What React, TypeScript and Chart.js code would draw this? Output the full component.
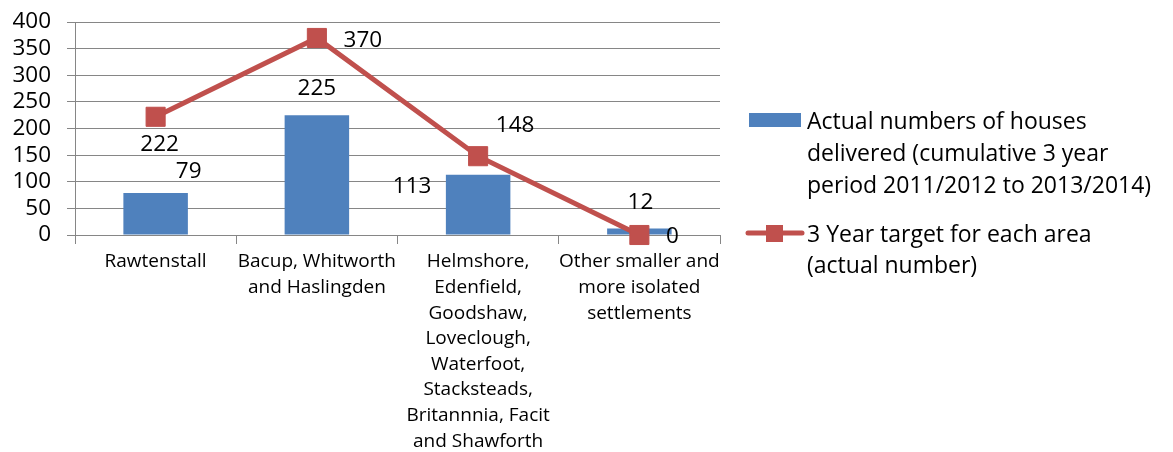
import React, { useEffect, useRef } from "react";
import { Chart, registerables } from "chart.js";

Chart.register(...registerables);

// ---- data ----
const categories: string[][] = [
  ["Rawtenstall"],
  ["Bacup, Whitworth", "and Haslingden"],
  [
    "Helmshore,",
    "Edenfield,",
    "Goodshaw,",
    "Loveclough,",
    "Waterfoot,",
    "Stacksteads,",
    "Britannnia, Facit",
    "and Shawforth",
  ],
  ["Other smaller and", "more isolated", "settlements"],
];
const actualDelivered: number[] = [79, 225, 113, 12];
const targets: number[] = [222, 370, 148, 0];
const yTickValues: number[] = [0, 50, 100, 150, 200, 250, 300, 350, 400];
const barSeriesName: string[] = [
  "Actual numbers of houses",
  "delivered (cumulative 3 year",
  "period 2011/2012 to 2013/2014)",
];
const lineSeriesName: string[] = ["3 Year target for each area", "(actual number)"];

// ---- styling ----
const BLUE = "#4F81BD";
const RED = "#C0504D";
const GRID = "#868686";
const FONT = "'Open Sans', 'Noto Sans', sans-serif";
// data-label offsets relative to the mark (px)
const barLabelOffsets: number[][] = [[33, -21], [0, -27], [-66, 12], [1, -26]];
const lineLabelOffsets: number[][] = [[4, 28], [46, 3], [37, -31], [33, 2]];

const overlayPlugin = {
  id: "overlay",
  afterDatasetsDraw(chart: any) {
    const ctx = chart.ctx as CanvasRenderingContext2D;
    ctx.save();
    ctx.font = `22.5px ${FONT}`;
    ctx.fillStyle = "#000";
    ctx.textAlign = "center";
    ctx.textBaseline = "middle";
    const barMeta = chart.getDatasetMeta(0);
    barMeta.data.forEach((el: any, i: number) => {
      const o = barLabelOffsets[i];
      ctx.fillText(String(actualDelivered[i]), el.x + o[0], el.y + o[1]);
    });
    const lineMeta = chart.getDatasetMeta(1);
    lineMeta.data.forEach((el: any, i: number) => {
      const o = lineLabelOffsets[i];
      ctx.fillText(String(targets[i]), el.x + o[0], el.y + o[1]);
    });
    ctx.restore();
  },
  afterDraw(chart: any) {
    const ctx = chart.ctx as CanvasRenderingContext2D;
    const ca = chart.chartArea;
    const lx = ca.right + 29;
    const tx = ca.right + 87;
    ctx.save();
    ctx.font = `23px ${FONT}`;
    ctx.textAlign = "left";
    ctx.textBaseline = "alphabetic";
    // bar legend
    ctx.fillStyle = BLUE;
    ctx.fillRect(lx, 113, 52, 14);
    ctx.fillStyle = "#000";
    barSeriesName.forEach((t, i) => ctx.fillText(t, tx, 129 + i * 32));
    // line legend
    ctx.strokeStyle = RED;
    ctx.lineWidth = 5;
    ctx.lineCap = "round";
    ctx.beginPath();
    ctx.moveTo(lx - 1, 233);
    ctx.lineTo(lx + 53, 233);
    ctx.stroke();
    ctx.fillStyle = RED;
    ctx.fillRect(lx + 17, 225, 17, 17);
    ctx.fillStyle = "#000";
    lineSeriesName.forEach((t, i) => ctx.fillText(t, tx, 242 + i * 31));
    ctx.restore();
  },
};

export default function App() {
  const canvasRef = useRef<HTMLCanvasElement | null>(null);

  useEffect(() => {
    const canvas = canvasRef.current;
    if (!canvas) return;
    const chart = new Chart(canvas, {
      type: "bar",
      data: {
        labels: categories,
        datasets: [
          {
            type: "bar",
            label: barSeriesName.join(" "),
            data: actualDelivered,
            backgroundColor: BLUE,
            borderWidth: 0,
            categoryPercentage: 1,
            barPercentage: 0.4,
            order: 2,
          } as any,
          {
            type: "line",
            label: lineSeriesName.join(" "),
            data: targets,
            borderColor: RED,
            borderWidth: 5,
            backgroundColor: RED,
            pointStyle: "rect",
            pointRadius: 13.5,
            pointBackgroundColor: RED,
            pointBorderColor: RED,
            pointBorderWidth: 1,
            tension: 0,
            clip: false,
            order: 1,
          } as any,
        ],
      },
      options: {
        responsive: false,
        animation: false,
        events: [],
        layout: {
          autoPadding: false,
          padding: { top: 22, right: 453, left: 0, bottom: 0 },
        } as any,
        plugins: {
          legend: { display: false },
          tooltip: { enabled: false },
        },
        scales: {
          x: {
            type: "category",
            offset: true,
            grid: {
              offset: true,
              drawOnChartArea: false,
              drawTicks: true,
              tickLength: 9,
              color: GRID,
            },
            border: { color: GRID, width: 1 },
            ticks: {
              color: "#000",
              font: { family: FONT, size: 19, lineHeight: 1.35 },
              maxRotation: 0,
              minRotation: 0,
              autoSkip: false,
              padding: 5,
            },
            afterFit: (s: any) => {
              s.height = 217;
              s.paddingLeft = 0;
              s.paddingRight = 0;
            },
          },
          y: {
            min: 0,
            max: 400,
            grid: { color: GRID, tickLength: 8, lineWidth: 1 },
            border: { color: GRID, width: 1 },
            ticks: {
              color: "#000",
              font: { family: FONT, size: 22.5 },
              padding: 16,
              stepSize: 50,
              autoSkip: false,
            },
            afterBuildTicks: (s: any) => {
              s.ticks = yTickValues.map((v) => ({ value: v }));
            },
            afterFit: (s: any) => {
              s.width = 75;
              s.paddingTop = 0;
              s.paddingBottom = 0;
            },
          },
        },
      } as any,
      plugins: [overlayPlugin],
    });
    return () => chart.destroy();
  }, []);

  return (
    <div style={{ position: "fixed", left: 0, top: 0, width: 1173, height: 452, background: "#fff" }}>
      <canvas ref={canvasRef} width={1173} height={452} style={{ display: "block" }} />
    </div>
  );
}
